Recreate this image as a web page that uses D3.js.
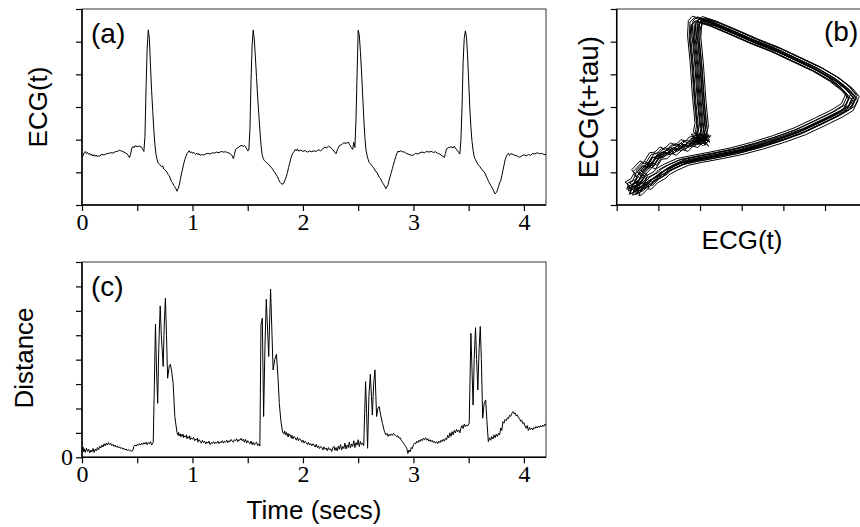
<!DOCTYPE html>
<html>
<head>
<meta charset="utf-8">
<script src="https://cdn.jsdelivr.net/npm/d3@7"></script>
<style>
  html, body { margin: 0; padding: 0; background: #fff; }
  svg { display: block; }
  .tick text { font-family: "Liberation Serif", "Times New Roman", serif; font-size: 24px; fill: #000; }
  .lbl { font-family: "Liberation Sans", Arial, sans-serif; font-size: 26px; fill: #000; }
  .tag { font-family: "Liberation Sans", Arial, sans-serif; font-size: 28px; fill: #000; }
</style>
</head>
<body>
<svg id="chart" width="860" height="527"></svg>
<script>
// ---- data ----
// (a) ECG trace: [time (s), ECG]
const ecgTrace = [
  [0,1.43],[0.01,1.52],[0.02,1.60],[0.03,1.64],[0.04,1.57],[0.05,1.61],[0.06,1.55],[0.07,1.58],[0.08,1.52],[0.09,1.55],
  [0.10,1.50],[0.11,1.54],[0.12,1.49],[0.13,1.53],[0.14,1.47],[0.15,1.51],[0.16,1.50],[0.18,1.55],[0.20,1.53],[0.22,1.57],
  [0.24,1.58],[0.26,1.60],[0.28,1.59],[0.30,1.63],[0.32,1.64],[0.34,1.68],[0.35,1.66],[0.37,1.64],[0.39,1.60],[0.41,1.56],
  [0.43,1.45],[0.44,1.55],[0.45,1.74],[0.46,1.79],[0.47,1.75],[0.48,1.81],[0.50,1.79],[0.52,1.80],[0.54,1.77],[0.55,1.70],
  [0.56,1.64],[0.57,2.10],[0.58,3.60],[0.59,4.80],[0.60,5.36],[0.61,5.10],[0.62,4.25],[0.63,3.50],[0.64,2.90],[0.65,2.30],
  [0.66,1.85],[0.67,1.55],[0.68,1.38],[0.69,1.28],[0.70,1.25],[0.72,1.17],[0.73,1.20],[0.74,1.10],[0.75,1.08],[0.77,1.00],
  [0.78,0.93],[0.79,0.90],[0.80,0.80],[0.81,0.72],[0.82,0.68],[0.83,0.60],[0.84,0.56],[0.85,0.50],[0.86,0.42],[0.87,0.50],
  [0.88,0.60],[0.89,0.78],[0.90,0.95],[0.91,1.10],[0.92,1.25],[0.93,1.38],[0.94,1.48],[0.95,1.57],[0.96,1.62],[0.97,1.66],
  [0.98,1.60],[0.99,1.63],[1.00,1.58],[1.01,1.62],[1.02,1.57],[1.03,1.55],[1.04,1.59],[1.05,1.54],[1.06,1.57],[1.07,1.52],
  [1.08,1.55],[1.10,1.53],[1.12,1.56],[1.14,1.58],[1.16,1.56],[1.18,1.60],[1.20,1.59],[1.22,1.62],[1.24,1.60],[1.26,1.64],
  [1.28,1.62],[1.30,1.63],[1.32,1.60],[1.34,1.58],[1.36,1.50],[1.37,1.42],[1.38,1.55],[1.39,1.70],[1.41,1.75],[1.43,1.80],
  [1.45,1.83],[1.46,1.78],[1.47,1.82],[1.48,1.79],[1.49,1.72],[1.50,1.66],[1.51,1.68],[1.52,2.30],[1.53,3.80],[1.54,4.90],
  [1.55,5.36],[1.56,5.05],[1.57,4.50],[1.58,3.90],[1.59,3.30],[1.60,2.80],[1.61,2.30],[1.62,1.85],[1.63,1.55],[1.64,1.42],
  [1.65,1.36],[1.67,1.30],[1.69,1.24],[1.71,1.16],[1.72,1.12],[1.74,1.02],[1.76,0.92],[1.77,0.86],[1.78,0.78],[1.79,0.70],
  [1.80,0.67],[1.81,0.64],[1.82,0.64],[1.83,0.70],[1.84,0.78],[1.85,0.88],[1.86,1.00],[1.87,1.15],[1.88,1.28],[1.89,1.42],
  [1.90,1.53],[1.91,1.60],[1.92,1.63],[1.93,1.70],[1.94,1.66],[1.95,1.72],[1.96,1.65],[1.98,1.68],[2.00,1.64],[2.02,1.67],
  [2.04,1.62],[2.06,1.65],[2.08,1.63],[2.10,1.66],[2.12,1.64],[2.14,1.69],[2.16,1.66],[2.18,1.72],[2.20,1.78],[2.21,1.74],
  [2.23,1.80],[2.25,1.76],[2.27,1.70],[2.29,1.60],[2.30,1.57],[2.31,1.68],[2.33,1.82],[2.35,1.85],[2.37,1.90],[2.39,1.89],
  [2.41,1.92],[2.42,1.86],[2.43,1.80],[2.44,1.75],[2.45,1.70],[2.46,1.92],[2.47,1.76],[2.48,2.60],[2.49,4.00],[2.50,5.35],
  [2.51,5.20],[2.52,4.70],[2.53,4.10],[2.54,3.40],[2.55,2.70],[2.56,2.10],[2.57,1.70],[2.58,1.52],[2.59,1.40],[2.60,1.30],
  [2.62,1.22],[2.64,1.14],[2.66,1.02],[2.67,1.00],[2.69,0.85],[2.70,0.82],[2.72,0.68],[2.74,0.58],[2.75,0.50],[2.76,0.55],
  [2.77,0.62],[2.78,0.76],[2.79,0.88],[2.80,1.00],[2.81,1.12],[2.82,1.25],[2.83,1.36],[2.84,1.48],[2.85,1.58],[2.86,1.65],
  [2.87,1.62],[2.88,1.66],[2.90,1.63],[2.92,1.62],[2.94,1.57],[2.96,1.55],[2.98,1.52],[3.00,1.53],[3.02,1.58],[3.04,1.56],
  [3.06,1.60],[3.08,1.62],[3.10,1.60],[3.12,1.64],[3.14,1.62],[3.16,1.64],[3.18,1.61],[3.20,1.63],[3.22,1.58],[3.24,1.56],
  [3.26,1.50],[3.28,1.46],[3.29,1.58],[3.30,1.72],[3.32,1.76],[3.34,1.78],[3.36,1.75],[3.37,1.80],[3.38,1.74],[3.40,1.66],
  [3.41,1.60],[3.42,1.56],[3.43,2.00],[3.44,3.00],[3.45,4.40],[3.46,5.10],[3.47,5.33],[3.48,5.15],[3.49,4.60],[3.50,3.80],
  [3.51,3.00],[3.52,2.40],[3.53,1.95],[3.54,1.68],[3.55,1.48],[3.56,1.40],[3.58,1.26],[3.60,1.18],[3.62,1.08],[3.64,1.02],
  [3.65,0.95],[3.67,0.80],[3.68,0.72],[3.70,0.60],[3.72,0.48],[3.73,0.40],[3.74,0.34],[3.75,0.38],[3.76,0.45],[3.77,0.56],
  [3.78,0.68],[3.79,0.74],[3.80,0.90],[3.81,1.05],[3.82,1.22],[3.83,1.38],[3.84,1.48],[3.85,1.55],[3.86,1.58],[3.87,1.52],
  [3.88,1.57],[3.90,1.55],[3.92,1.52],[3.94,1.50],[3.96,1.46],[3.98,1.50],[4.00,1.54],[4.02,1.50],[4.04,1.55],[4.06,1.52],
  [4.08,1.58],[4.10,1.56],[4.12,1.60],[4.14,1.57],[4.16,1.58],[4.18,1.55],[4.20,1.54]
];

// (b) one typical delay-embedding loop: [ECG(t), ECG(t+tau)]
const loopShape = [
  [2.00,2.00],[2.08,1.90],[1.94,2.06],[2.10,2.10],[1.96,1.92],[2.07,2.06],[2.00,2.14],
  [2.04,2.40],[1.98,3.20],[1.92,4.30],[1.86,5.10],[1.88,5.55],[1.98,5.68],
  [2.30,5.55],[2.80,5.28],[3.30,5.00],[3.80,4.75],[4.30,4.45],[4.80,4.15],[5.20,3.85],[5.50,3.55],[5.66,3.30],
  [5.55,3.00],[5.30,2.80],[4.90,2.55],[4.40,2.25],[3.90,2.02],[3.40,1.82],[2.90,1.65],[2.40,1.52],[1.90,1.40],[1.60,1.32],
  [1.30,1.15],[1.12,1.02],[1.05,0.92],[0.85,0.78],[0.70,0.58],[0.62,0.60],[0.48,0.42],[0.40,0.38],[0.44,0.52],
  [0.36,0.60],[0.50,0.70],[0.58,0.88],[0.52,0.98],[0.72,1.25],[0.80,1.20],[0.95,1.50],[1.08,1.52],[1.20,1.68],[1.30,1.62],
  [1.45,1.80],[1.58,1.74],[1.70,1.90],[1.82,1.86],[1.90,1.98],[2.00,2.00]
];
// shift of each recorded beat within the bundle
const loopShiftX = [-0.16,-0.12,-0.08,-0.05,-0.02,0.00,0.02,0.05,0.07,0.09,0.11,0.13,0.16,-0.10];
const loopShiftY = [0.10,0.05,-0.04,0.08,-0.08,0.00,0.04,-0.06,0.09,-0.02,0.05,-0.10,0.02,-0.05];

// (c) distance trace: [time (s), distance]
const distTrace = [
  [0.00,0.30],[0.01,0.42],[0.015,0.22],[0.02,0.35],[0.03,0.20],[0.04,0.38],[0.05,0.24],[0.06,0.33],[0.07,0.18],[0.08,0.30],
  [0.09,0.22],[0.10,0.36],[0.11,0.20],[0.12,0.34],[0.13,0.26],[0.14,0.40],[0.15,0.30],[0.16,0.45],[0.17,0.38],[0.18,0.50],
  [0.19,0.42],[0.20,0.55],[0.21,0.47],[0.22,0.58],[0.23,0.50],[0.24,0.60],[0.25,0.52],[0.26,0.57],[0.27,0.48],[0.28,0.53],
  [0.29,0.44],[0.30,0.50],[0.31,0.42],[0.32,0.46],[0.33,0.38],[0.34,0.43],[0.35,0.36],[0.36,0.40],[0.37,0.33],[0.38,0.37],
  [0.39,0.30],[0.40,0.34],[0.41,0.28],[0.42,0.32],[0.43,0.26],[0.44,0.30],[0.45,0.24],[0.46,0.28],[0.47,0.45],[0.48,0.50],
  [0.49,0.46],[0.50,0.53],[0.51,0.49],[0.52,0.56],[0.53,0.50],[0.54,0.58],[0.55,0.52],[0.56,0.60],[0.57,0.54],[0.58,0.62],
  [0.59,0.52],[0.60,0.60],[0.61,0.55],[0.62,0.64],[0.63,0.50],[0.64,0.58],[0.645,0.62],[0.655,3.0],[0.665,5.46],[0.675,3.5],
  [0.685,2.21],[0.695,4.5],[0.708,6.20],[0.718,5.0],[0.735,3.72],[0.745,5.5],[0.755,6.52],[0.765,5.0],[0.775,3.24],[0.79,3.75],
  [0.80,3.81],[0.812,3.5],[0.825,3.03],[0.84,1.67],[0.86,1.01],
  [0.87,0.90],[0.875,1.02],[0.88,0.88],[0.89,0.96],[0.895,0.84],[0.90,0.93],[0.91,0.86],[0.915,0.95],[0.92,0.80],[0.93,0.88],
  [0.94,0.83],[0.945,0.92],[0.95,0.76],[0.96,0.85],[0.97,0.78],[0.975,0.88],[0.98,0.72],[0.99,0.80],[1.00,0.74],[1.01,0.82],
  [1.02,0.68],[1.03,0.75],[1.04,0.70],[1.045,0.79],[1.05,0.62],[1.06,0.72],[1.07,0.66],[1.08,0.58],[1.09,0.70],[1.10,0.60],
  [1.11,0.66],[1.12,0.55],[1.13,0.63],[1.14,0.58],[1.15,0.66],[1.16,0.52],[1.17,0.60],[1.18,0.56],[1.19,0.64],[1.20,0.55],
  [1.21,0.62],[1.22,0.58],[1.23,0.66],[1.24,0.56],[1.25,0.63],[1.26,0.60],[1.27,0.68],[1.28,0.58],[1.29,0.66],[1.30,0.62],
  [1.31,0.70],[1.32,0.60],[1.33,0.68],[1.34,0.64],[1.35,0.73],[1.36,0.66],[1.37,0.62],[1.38,0.72],[1.39,0.68],[1.40,0.76],
  [1.41,0.64],[1.42,0.72],[1.43,0.70],[1.44,0.78],[1.45,0.68],[1.46,0.74],[1.47,0.62],[1.48,0.74],[1.49,0.58],[1.50,0.68],
  [1.51,0.62],[1.52,0.55],[1.53,0.66],[1.54,0.52],[1.55,0.62],[1.56,0.50],[1.57,0.58],[1.58,0.62],[1.59,0.48],[1.60,0.55],
  [1.61,0.46],
  [1.62,5.42],[1.632,5.70],[1.644,1.67],[1.656,4.5],[1.668,6.47],[1.68,5.2],[1.69,4.13],[1.70,5.8],[1.707,6.89],[1.72,5.0],
  [1.73,3.58],[1.745,4.0],[1.76,4.22],[1.775,3.2],[1.786,2.21],[1.80,1.5],[1.816,1.01],
  [1.83,0.98],[1.835,1.08],[1.84,0.92],[1.85,1.02],[1.86,0.86],[1.865,0.98],[1.87,0.84],[1.88,0.94],[1.89,0.88],[1.895,0.78],
  [1.90,0.90],[1.91,0.76],[1.92,0.86],[1.93,0.80],[1.94,0.70],[1.95,0.82],[1.96,0.68],[1.97,0.76],[1.98,0.72],[1.99,0.62],
  [2.00,0.70],[2.01,0.58],[2.02,0.66],[2.03,0.60],[2.04,0.52],[2.05,0.61],[2.06,0.50],[2.07,0.56],[2.08,0.47],[2.09,0.55],
  [2.10,0.51],[2.11,0.42],[2.12,0.53],[2.13,0.40],[2.14,0.47],[2.15,0.36],[2.16,0.44],[2.17,0.41],[2.18,0.30],[2.19,0.43],
  [2.20,0.33],[2.21,0.38],[2.22,0.27],[2.23,0.40],[2.24,0.30],[2.25,0.35],[2.26,0.24],[2.27,0.38],[2.28,0.45],[2.29,0.28],
  [2.30,0.40],[2.31,0.26],[2.32,0.46],[2.33,0.33],[2.34,0.52],[2.35,0.30],[2.36,0.44],[2.37,0.36],[2.38,0.58],[2.39,0.34],
  [2.40,0.50],[2.41,0.40],[2.42,0.62],[2.43,0.38],[2.44,0.55],[2.45,0.45],[2.46,0.68],[2.47,0.40],[2.48,0.60],[2.49,0.50],
  [2.50,0.72],[2.51,0.44],[2.52,0.65],[2.53,0.52],[2.54,0.58],[2.55,0.48],
  [2.567,3.10],[2.575,2.0],[2.585,0.37],[2.597,2.5],[2.61,3.40],[2.62,2.5],[2.628,1.73],[2.64,3.0],[2.652,3.58],[2.66,2.5],
  [2.667,1.67],[2.678,2.0],[2.69,2.08],[2.705,1.7],[2.72,1.39],[2.735,1.1],[2.75,0.92],[2.76,0.98],[2.77,0.86],[2.78,0.94],
  [2.79,0.88],[2.80,0.96],[2.81,0.90],[2.82,0.98],[2.83,0.92],[2.84,0.90],[2.85,0.84],[2.86,0.88],[2.87,0.78],[2.88,0.80],
  [2.89,0.70],[2.90,0.64],[2.91,0.58],[2.92,0.52],[2.93,0.44],[2.94,0.36],[2.95,0.16],[2.96,0.30],[2.97,0.22],[2.98,0.40],
  [2.99,0.35],[3.00,0.52],[3.01,0.58],[3.02,0.55],[3.03,0.66],[3.04,0.60],[3.05,0.70],[3.06,0.64],[3.07,0.74],[3.08,0.68],
  [3.09,0.78],[3.10,0.72],[3.11,0.80],[3.12,0.70],[3.13,0.76],[3.14,0.66],[3.15,0.72],[3.16,0.64],[3.17,0.70],[3.18,0.60],
  [3.19,0.66],[3.20,0.58],[3.21,0.64],[3.22,0.56],[3.23,0.66],[3.24,0.60],[3.25,0.70],[3.26,0.64],[3.27,0.74],[3.28,0.66],
  [3.29,0.78],[3.30,0.72],[3.31,0.90],[3.32,0.80],[3.33,1.00],[3.34,0.86],[3.35,1.05],[3.36,0.92],[3.37,1.10],[3.38,1.00],
  [3.39,1.14],[3.40,1.05],[3.41,1.12],[3.42,1.00],[3.43,1.20],[3.44,1.30],[3.45,1.18],[3.46,1.36],[3.47,1.25],[3.48,1.33],
  [3.49,1.28],[3.505,1.40],[3.52,5.08],[3.54,2.14],[3.55,4.0],[3.562,5.31],[3.572,4.0],[3.583,2.76],[3.595,4.5],[3.605,5.36],
  [3.615,4.0],[3.627,1.60],[3.64,2.2],[3.654,2.35],[3.665,1.5],[3.678,0.64],[3.69,0.80],[3.70,0.70],[3.708,0.85],[3.72,0.75],
  [3.73,0.92],[3.74,0.80],[3.75,0.95],[3.76,0.85],[3.77,0.98],[3.78,0.92],[3.79,1.20],[3.80,1.10],[3.81,1.46],[3.82,1.40],
  [3.83,1.55],[3.84,1.50],[3.85,1.62],[3.86,1.58],[3.87,1.72],[3.88,1.68],[3.89,1.80],[3.90,1.87],[3.91,1.78],[3.92,1.82],
  [3.93,1.70],[3.94,1.74],[3.95,1.62],[3.96,1.60],[3.97,1.48],[3.98,1.52],[3.99,1.38],[4.00,1.42],[4.01,1.28],[4.02,1.19],
  [4.03,1.30],[4.04,1.10],[4.05,1.22],[4.06,1.14],[4.07,1.20],[4.08,1.12],[4.09,1.22],[4.10,1.18],[4.11,1.26],[4.12,1.20],
  [4.13,1.28],[4.14,1.22],[4.15,1.30],[4.16,1.24],[4.17,1.32],[4.18,1.26],[4.19,1.36],[4.20,1.33]
];

const timeTicks = [0, 0.5, 1, 1.5, 2, 2.5, 3, 3.5, 4];
const ecgTicks = [0, 1, 2, 3, 4, 5, 6];
const distTicks = [0, 1, 2, 3, 4, 5, 6, 7, 8];

// ---- layout ----
const svg = d3.select("#chart");

const xA = d3.scaleLinear().domain([0, 4.2]).range([82, 546]);
const yA = d3.scaleLinear().domain([0, 6]).range([205, 9]);
const xB = d3.scaleLinear().domain([0, 6]).range([616.7, 866.7]);
const yB = d3.scaleLinear().domain([0, 6]).range([205, 9]);
const yC = d3.scaleLinear().domain([0, 8]).range([457.3, 262]);

function frame(x, y) {
  const [x0, x1] = x.range(), [y1, y0] = y.range();
  svg.append("rect")
    .attr("x", x0).attr("y", y0)
    .attr("width", x1 - x0).attr("height", y1 - y0)
    .attr("fill", "none").attr("stroke", "#333").attr("stroke-width", 1);
  svg.append("line").attr("x1", x0).attr("x2", x0).attr("y1", y0).attr("y2", y1)
    .attr("stroke", "#000").attr("stroke-width", 1.5);
  svg.append("line").attr("x1", x0).attr("x2", x1).attr("y1", y1).attr("y2", y1)
    .attr("stroke", "#000").attr("stroke-width", 1.5);
}

function styleAxis(g) {
  g.select(".domain").remove();
  g.selectAll(".tick line").attr("stroke", "#000").attr("stroke-width", 1.2);
}

// (a)
frame(xA, yA);
svg.append("g").attr("transform", "translate(0,205)")
  .call(d3.axisBottom(xA).tickValues(timeTicks).tickSize(6).tickPadding(2)
    .tickFormat(d => Number.isInteger(d) ? d : ""))
  .call(styleAxis);
svg.append("g").attr("transform", "translate(82,0)")
  .call(d3.axisLeft(yA).tickValues(ecgTicks).tickSize(6).tickFormat(""))
  .call(styleAxis);

// (b)
frame(xB, yB);
svg.append("g").attr("transform", "translate(0,205)")
  .call(d3.axisBottom(xB).tickValues([0, 1, 2, 3, 4, 5]).tickSize(6).tickFormat(""))
  .call(styleAxis);
svg.append("g").attr("transform", "translate(616.7,0)")
  .call(d3.axisLeft(yB).tickValues(ecgTicks).tickSize(6).tickFormat(""))
  .call(styleAxis);

// (c)
frame(xA, yC);
svg.append("g").attr("transform", "translate(0,457.3)")
  .call(d3.axisBottom(xA).tickValues(timeTicks).tickSize(6).tickPadding(2)
    .tickFormat(d => Number.isInteger(d) ? d : ""))
  .call(styleAxis);
svg.append("g").attr("transform", "translate(82,0)")
  .call(d3.axisLeft(yC).tickValues(distTicks).tickSize(6).tickPadding(3)
    .tickFormat(d => d === 0 ? "0" : ""))
  .call(styleAxis);

// traces
const lineA = d3.line().x(d => xA(d[0])).y(d => yA(d[1]));
svg.append("path").datum(ecgTrace)
  .attr("d", lineA).attr("fill", "none").attr("stroke", "#000").attr("stroke-width", 1);

const lineC = d3.line().x(d => xA(d[0])).y(d => yC(d[1]));
svg.append("path").datum(distTrace)
  .attr("d", lineC).attr("fill", "none").attr("stroke", "#000").attr("stroke-width", 1);

svg.append("clipPath").attr("id", "clipB")
  .append("rect").attr("x", 616.7).attr("y", 9).attr("width", 250).attr("height", 196);

const loops = loopShiftX.map((dx, i) => loopShape.map(p => [p[0] + dx, p[1] + loopShiftY[i]]));
const lineB = d3.line().x(d => xB(d[0])).y(d => yB(d[1]));
svg.append("g").attr("clip-path", "url(#clipB)")
  .selectAll("path").data(loops).join("path")
  .attr("d", lineB).attr("fill", "none").attr("stroke", "#000").attr("stroke-width", 1);

// labels
svg.append("text").attr("class", "tag").attr("x", 91).attr("y", 43).text("(a)");
svg.append("text").attr("class", "tag").attr("x", 824).attr("y", 41).text("(b)");
svg.append("text").attr("class", "tag").attr("x", 91).attr("y", 296).text("(c)");

svg.append("text").attr("class", "lbl").attr("text-anchor", "middle")
  .attr("transform", "translate(47,107) rotate(-90)").text("ECG(t)");
svg.append("text").attr("class", "lbl").attr("text-anchor", "middle")
  .attr("transform", "translate(33,358) rotate(-90)").text("Distance");
svg.append("text").attr("class", "lbl").attr("text-anchor", "middle")
  .style("font-size", "28px")
  .attr("transform", "translate(598,107) rotate(-90)").text("ECG(t+tau)");
svg.append("text").attr("class", "lbl").attr("text-anchor", "middle")
  .attr("x", 742).attr("y", 249).text("ECG(t)");
svg.append("text").attr("class", "lbl").attr("text-anchor", "middle")
  .attr("x", 314).attr("y", 519).text("Time (secs)");
</script>
</body>
</html>
